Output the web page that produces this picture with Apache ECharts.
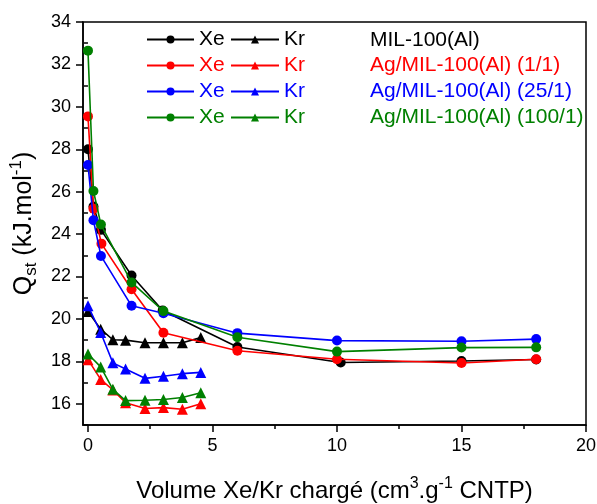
<!DOCTYPE html>
<html>
<head>
<meta charset="utf-8">
<script src="https://cdn.jsdelivr.net/npm/echarts@6/dist/echarts.min.js"></script>
<style>html,body{margin:0;padding:0;background:#fff}#c{width:597px;height:504px}</style>
</head>
<body>
<div id="c"></div>
<script>
// ---- data ----
const materials = ['MIL-100(Al)', 'Ag/MIL-100(Al) (1/1)', 'Ag/MIL-100(Al) (25/1)', 'Ag/MIL-100(Al) (100/1)'];
const colors = ['#000000', '#ff0000', '#0000ff', '#008000'];

const xeVolBlack = [0, 0.22, 0.52, 1.75, 3.0, 6.0, 10.15, 15.0, 18.0];
const xeVolRed   = [0, 0.22, 0.54, 1.75, 3.03, 6.0, 10.0, 15.0, 18.0];
const xeVolBlue  = [0, 0.22, 0.52, 1.75, 3.03, 6.0, 10.0, 15.0, 18.0];
const xeVolGreen = [0, 0.22, 0.52, 1.75, 3.03, 6.0, 10.0, 15.0, 18.0];

const xeQBlack = [28.0, 25.3, 24.2, 22.05, 20.4, 18.68, 17.95, 18.02, 18.09];
const xeQRed   = [29.55, 25.2, 23.55, 21.4, 19.35, 18.5, 18.1, 17.92, 18.1];
const xeQBlue  = [27.26, 24.65, 22.97, 20.62, 20.27, 19.33, 18.98, 18.95, 19.05];
const xeQGreen = [32.65, 26.03, 24.45, 21.72, 20.37, 19.14, 18.46, 18.65, 18.66];

const krVol = [0, 0.51, 1.0, 1.51, 2.29, 3.03, 3.79, 4.53];
const krQBlack = [20.35, 19.52, 19.02, 19.0, 18.88, 18.88, 18.88, 19.12];
const krQRed   = [18.08, 17.15, 16.65, 16.05, 15.78, 15.82, 15.74, 16.0];
const krQBlue  = [20.62, 19.36, 17.93, 17.64, 17.2, 17.3, 17.42, 17.48];
const krQGreen = [18.35, 17.74, 16.68, 16.15, 16.17, 16.2, 16.3, 16.52];

const xTickVals = [0, 5, 10, 15, 20];
const xMinorVals = [2.5, 7.5, 12.5, 17.5];
const yTickVals = [16, 18, 20, 22, 24, 26, 28, 30, 32, 34];
const yMinorVals = [15, 17, 19, 21, 23, 25, 27, 29, 31, 33];

// ---- build ----
const FONT = 'Liberation Sans';
const xeVols = [xeVolBlack, xeVolRed, xeVolBlue, xeVolGreen];
const xeQs = [xeQBlack, xeQRed, xeQBlue, xeQGreen];
const krQs = [krQBlack, krQRed, krQBlue, krQGreen];
const zip = (a, b) => a.map((v, i) => [v, b[i]]);

const series = [];
const xeNames = [], krNames = [];
materials.forEach((m, i) => {
  const xn = 'Xe ' + m, kn = 'Kr ' + m;
  xeNames.push({ name: xn, textStyle: { color: colors[i] } });
  krNames.push({ name: kn, textStyle: { color: colors[i] } });
  series.push({
    name: xn, type: 'line', data: zip(xeVols[i], xeQs[i]),
    symbol: 'circle', symbolSize: 10, showAllSymbol: true,
    lineStyle: { color: colors[i], width: 1.6 },
    itemStyle: { color: colors[i] }, animation: false, z: 2 + i
  });
  series.push({
    name: kn, type: 'line', data: zip(krVol, krQs[i]),
    symbol: 'triangle', symbolSize: 11, showAllSymbol: true,
    lineStyle: { color: colors[i], width: 1.6 },
    itemStyle: { color: colors[i] }, animation: false, z: 2 + i
  });
});

const legendBase = {
  orient: 'vertical', top: 29, itemWidth: 47, itemHeight: 10, itemGap: 5,
  selectedMode: false, padding: 0,
  textStyle: { fontFamily: FONT, fontSize: 21, lineHeight: 20 }
};

const axisLineStyle = { color: '#000', width: 1.5 };
const xRich = {
  sup: { fontFamily: FONT, fontSize: 16, lineHeight: 15, verticalAlign: 'top', color: '#000' }
};
const yRich = {
  sub: { fontFamily: FONT, fontSize: 17, lineHeight: 17, verticalAlign: 'bottom', color: '#000' },
  sup: { fontFamily: FONT, fontSize: 17, lineHeight: 17, verticalAlign: 'top', color: '#000' }
};

const option = {
  backgroundColor: '#fff',
  animation: false,
  grid: { left: 83, right: 11, top: 22, bottom: 79, outerBoundsMode: 'none', containLabel: false,
          show: true, borderColor: '#000', borderWidth: 1.5, backgroundColor: 'transparent' },
  legend: [
    Object.assign({}, legendBase, { left: 146, data: xeNames, formatter: () => 'Xe' }),
    Object.assign({}, legendBase, { left: 230, itemWidth: 48, data: krNames, formatter: () => 'Kr' })
  ],
  graphic: materials.map((m, i) => ({
    type: 'text', x: 370, y: 40 + i * 25.6,
    style: { text: m, fill: colors[i], fontFamily: FONT, fontSize: 21, verticalAlign: 'middle' }
  })),
  xAxis: [{
    type: 'value', min: -0.2, max: 20, position: 'bottom',
    name: 'Volume Xe/Kr chargé (cm{sup|3}.g{sup|-1} CNTP)',
    nameLocation: 'middle', nameGap: 51,
    nameTextStyle: { fontFamily: FONT, fontSize: 24, color: '#000', lineHeight: 30, rich: xRich },
    axisLine: { show: true, onZero: false, lineStyle: axisLineStyle },
    axisTick: { show: true, inside: false, length: 7, lineStyle: axisLineStyle, customValues: xTickVals },
    axisLabel: { fontFamily: FONT, fontSize: 18, color: '#000', margin: 12, customValues: xTickVals },
    splitLine: { show: false }
  }, {
    type: 'value', min: -0.2, max: 20, position: 'bottom',
    axisLine: { show: false },
    axisTick: { show: true, inside: false, length: 4, lineStyle: axisLineStyle, customValues: xMinorVals },
    axisLabel: { show: false, customValues: xMinorVals },
    splitLine: { show: false }
  }],
  yAxis: [{
    type: 'value', min: 15, max: 34, position: 'left',
    name: 'Q{sub|st} (kJ.mol{sup|-1})',
    nameLocation: 'middle', nameGap: 43, nameRotate: 90,
    nameTextStyle: { fontFamily: FONT, fontSize: 25, color: '#000', lineHeight: 32, rich: yRich },
    axisLine: { show: true, onZero: false, lineStyle: axisLineStyle },
    axisTick: { show: true, inside: false, length: 7, lineStyle: axisLineStyle, customValues: yTickVals },
    axisLabel: { fontFamily: FONT, fontSize: 18, color: '#000', margin: 12, customValues: yTickVals },
    splitLine: { show: false }
  }, {
    type: 'value', min: 15, max: 34, position: 'left',
    axisLine: { show: false },
    axisTick: { show: true, inside: false, length: 4, lineStyle: axisLineStyle, customValues: yMinorVals },
    axisLabel: { show: false, customValues: yMinorVals },
    splitLine: { show: false }
  }],
  series: series
};

const chart = echarts.init(document.getElementById('c'), null, { renderer: 'canvas' });
chart.setOption(option);
</script>
</body>
</html>
